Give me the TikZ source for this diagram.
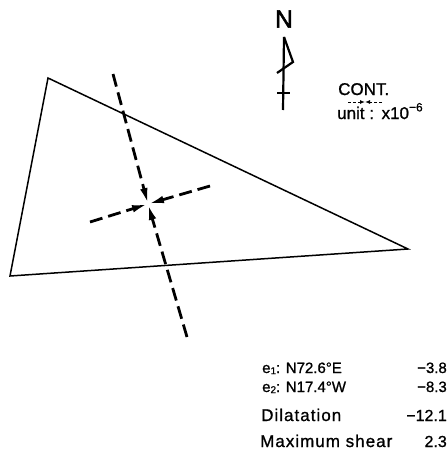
\documentclass[tikz,border=0pt]{standalone}
\usepackage{fontspec}
\setmainfont{Liberation Sans}[FakeBold=1]
\usetikzlibrary{arrows.meta}
\tikzset{
  edge/.style={line width=1.5pt, line join=miter},
  axisline/.style={line width=2.8pt, dash pattern=on 13pt off 6pt, -{Latex[length=16pt,width=7.5pt]}},
  txt/.style={inner sep=0pt, anchor=base west, font=\fontsize{15}{15}\selectfont},
  bigtxt/.style={inner sep=0pt, anchor=base west, font=\fontsize{17}{17}\selectfont\addfontfeature{LetterSpace=6}},
  num/.style={inner sep=0pt, anchor=base east, font=\fontsize{15}{15}\selectfont},
  bignum/.style={inner sep=0pt, anchor=base east, font=\fontsize{16}{16}\selectfont},
}
\newcommand{\sub}[1]{\raisebox{-0.15ex}{\fontsize{10}{10}\selectfont #1}}
\begin{document}
\begin{tikzpicture}[x=1pt,y=-1pt]
\useasboundingbox (0,0) rectangle (447,460);
% triangle
\coordinate (A) at (48,78);
\coordinate (B) at (408,249);
\coordinate (C) at (10,276);
\draw[edge] (A) -- (B) -- (C) -- cycle;
% strain axes
\coordinate (ctr) at (148,204);
\coordinate (t) at (113,74);
\coordinate (b) at (187,337);
\coordinate (l) at (90,222);
\coordinate (r) at (210,186);
\draw[axisline] (t) -- (ctr);
\draw[axisline] (b) -- (ctr);
\draw[axisline] (l) -- (ctr);
\draw[axisline] (r) -- (ctr);
% north arrow
\node[inner sep=0pt, font=\fontsize{25}{25}\selectfont\addfontfeature{FakeBold=2}] (N) at (284,19) {N};
\coordinate (nt) at (284,37);
\coordinate (nb) at (283,110);
\coordinate (nf) at (293,62);
\coordinate (nf2) at (277,73);
\draw[line width=2.2pt, line join=miter] (nt) -- (nb);
\draw[line width=2.2pt, line join=miter] (nt) -- (nf) -- (nf2);
\coordinate (cb1) at (277,93);
\coordinate (cb2) at (290,93);
\draw[line width=1.8pt] (cb1) -- (cb2);
% legend
\node[inner sep=0pt, anchor=base west, font=\fontsize{17}{17}\selectfont] (cont) at (338,95) {CONT.};
\coordinate (s1) at (348,102);
\coordinate (s2) at (382,102);
\coordinate (sc) at (365,102);
\draw[line width=1pt, dash pattern=on 3pt off 2pt, -{Latex[length=5pt,width=4pt]}] (s1) -- (sc);
\draw[line width=1pt, dash pattern=on 3pt off 2pt, -{Latex[length=5pt,width=4pt]}] (s2) -- (sc);
\node[inner sep=0pt, anchor=base west, font=\fontsize{17}{17}\selectfont] (unit) at (337,119) {unit\ :\ \,x10\raisebox{0.85ex}{\fontsize{12}{12}\selectfont −6}};
% values
\node[txt] (e1) at (262,373) {e\sub{1}: N72.6°E};
\node[num] (v1) at (447,373) {−3.8};
\node[txt] (e2) at (262,392) {e\sub{2}: N17.4°W};
\node[num] (v2) at (447,392) {−8.3};
\node[bigtxt] (dil) at (261,421) {Dilatation};
\node[bignum] (v3) at (447,421) {−12.1};
\node[bigtxt] (ms) at (260,447) {Maximum shear};
\node[bignum] (v4) at (447,447) {2.3};
\end{tikzpicture}
\end{document}
